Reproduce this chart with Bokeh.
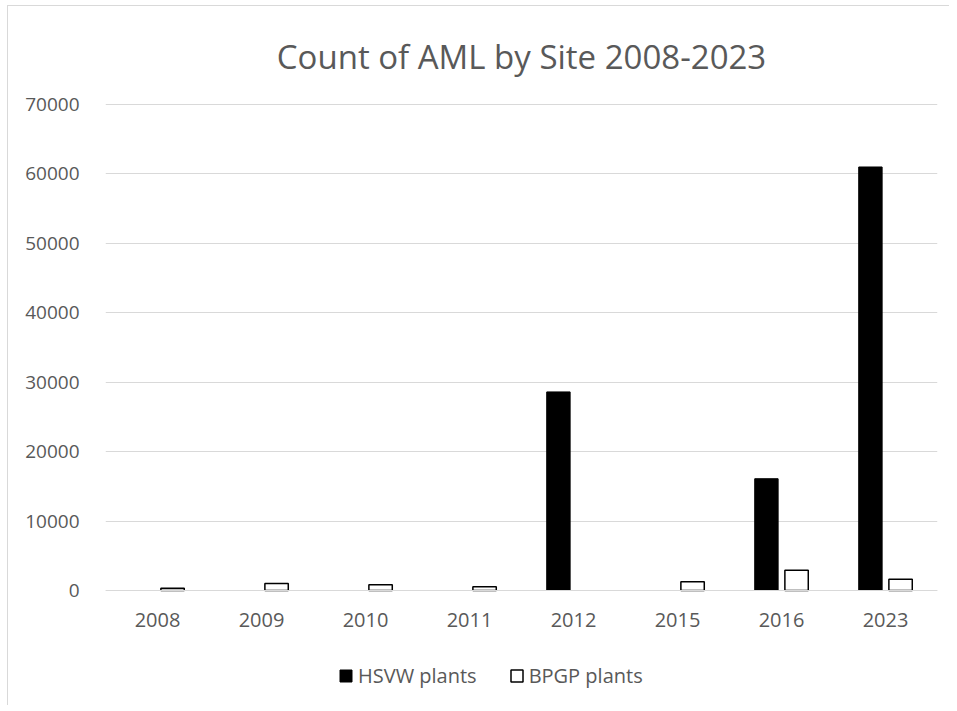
import math
from bokeh.plotting import figure
from bokeh.models import Range1d, FixedTicker, Legend, LegendItem
from bokeh.transform import dodge
from bokeh.embed import file_html
from bokeh.resources import INLINE

years = ["2008", "2009", "2010", "2011", "2012", "2015", "2016", "2023"]
hsvw = [None, None, None, None, 28600, None, 16100, 61000]
bpgp = [330, 1000, 820, 530, None, 1250, 2920, 1630]
y_ticks = [0, 10000, 20000, 30000, 40000, 50000, 60000, 70000]

def clean(v):
    return [math.nan if x is None else x for x in v]

source = dict(years=years, hsvw=clean(hsvw), bpgp=clean(bpgp))

# the frame extends below zero so that the legend fits inside it
p = figure(x_range=years, y_range=Range1d(-16564, 70144),
           frame_width=832, frame_height=602,
           min_border_left=97, min_border_right=12,
           min_border_top=97, min_border_bottom=0,
           output_backend="svg", toolbar_location=None,
           title="Count of AML by Site 2008-2023")
p.styles = {"margin-left": "7px", "margin-top": "5px",
            "border-left": "1px solid #d9d9d9", "border-top": "1px solid #d9d9d9"}
p.x_range.range_padding = 0
p.outline_line_color = None

p.title.align = "center"
p.title.text_font = "Open Sans"
p.title.text_font_size = "33px"
p.title.text_font_style = "normal"
p.title.text_color = "#595959"
p.title.standoff = 50

r1 = p.vbar(x=dodge("years", -0.145, range=p.x_range), top="hsvw", width=0.225,
            source=source, fill_color="black", line_color="black", line_width=1)
r2 = p.vbar(x=dodge("years", 0.145, range=p.x_range), top="bpgp", width=0.225,
            source=source, fill_color="white", line_color="black", line_width=1.5)

p.yaxis.ticker = FixedTicker(ticks=y_ticks)
p.ygrid.ticker = FixedTicker(ticks=y_ticks)
p.ygrid.grid_line_color = "#d9d9d9"
p.xgrid.grid_line_color = None

for ax in (p.xaxis, p.yaxis):
    ax.major_tick_line_color = None
    ax.minor_tick_line_color = None
    ax.major_label_text_font = "Open Sans"
    ax.major_label_text_font_size = "19px"
    ax.major_label_text_color = "#595959"
p.yaxis.axis_line_color = None
p.yaxis.major_label_standoff = 20
p.xaxis.fixed_location = 0
p.xaxis.axis_line_color = "#d9d9d9"
p.xaxis.major_label_standoff = 17
p.xaxis.major_label_text_font_size = "20px"

legend = Legend(items=[LegendItem(label="HSVW plants", renderers=[r1]),
                       LegendItem(label="BPGP plants", renderers=[r2])],
                orientation="horizontal", location=(233, 16),
                border_line_color=None, background_fill_alpha=0,
                label_text_font="Open Sans", label_text_font_size="20px",
                label_text_color="#595959", glyph_width=15, glyph_height=15,
                label_standoff=5, spacing=32, margin=0, padding=0)
p.add_layout(legend, "center")

open("out.html", "w").write(file_html(p, INLINE))
